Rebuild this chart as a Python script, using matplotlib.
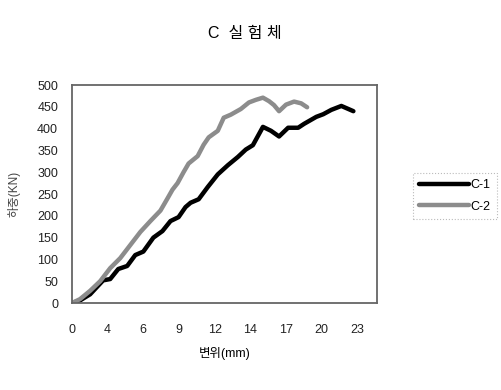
import matplotlib
matplotlib.use('Agg')
import matplotlib.pyplot as plt

plt.rcParams['font.family'] = ['Liberation Sans', 'Noto Sans CJK KR', 'DejaVu Sans']

# 변위 (mm) 와 하중 (kN), 그림에서 읽은 값
c1_x = [0, 0.65, 1.46, 2.51, 3.08, 3.73, 4.45, 5.10, 5.75, 6.56, 7.29, 7.94, 8.59,
        9.15, 9.56, 10.21, 10.94, 11.75, 12.56, 13.37, 14.01, 14.58, 15.39, 16.04,
        16.69, 17.42, 18.23, 18.71, 19.69, 20.25, 20.90, 21.71, 22.68]
c1_y = [0, 6, 20, 52, 55, 78, 85, 110, 118, 150, 165, 188, 197,
        220, 230, 238, 266, 295, 316, 335, 352, 362, 404, 395,
        382, 402, 402, 411, 427, 433, 443, 452, 440]

c2_x = [0, 0.65, 1.46, 2.27, 3.08, 3.89, 4.70, 5.51, 6.32, 7.13, 7.70, 8.10, 8.51,
        8.99, 9.40, 10.13, 10.61, 11.02, 11.75, 12.23, 12.80, 13.61, 14.26, 14.82,
        15.39, 15.88, 16.28, 16.69, 17.25, 17.90, 18.47, 18.95]
c2_y = [0, 9, 28, 50, 80, 103, 133, 163, 188, 212, 240, 260, 275,
        300, 320, 337, 363, 380, 395, 425, 432, 445, 460, 466,
        471, 463, 454, 440, 455, 462, 458, 449]

x_labels = ['0', '4', '6', '9', '12', '14', '17', '20', '23']
y_ticks = [0, 50, 100, 150, 200, 250, 300, 350, 400, 450, 500]

fig = plt.figure(figsize=(5.02, 3.9), dpi=100)
ax = fig.add_axes([0.1434, 0.223, 0.608, 0.559])

ax.plot(c1_x, c1_y, color='black', lw=3.2, label='C-1', solid_capstyle='round')
ax.plot(c2_x, c2_y, color='#8c8c8c', lw=3.2, label='C-2', solid_capstyle='round')

step = 23 / 8
ax.set_xticks([i * step for i in range(len(x_labels))])
ax.set_xticklabels(x_labels)
ax.set_xlim(0, 24.6)
ax.set_yticks(y_ticks)
ax.set_ylim(0, 500)
ax.tick_params(length=0, labelsize=9, colors='#222222')
ax.tick_params(axis='x', pad=15)
ax.tick_params(axis='y', pad=10)
for s in ax.spines.values():
    s.set_color('#666666')
    s.set_linewidth(1.3)

ax.set_xlabel('변위(mm)', fontsize=9, labelpad=8)
ax.set_ylabel('하중(KN)', fontsize=8.5, labelpad=12, color='#444444')
fig.text(0.488, 0.915, 'C  실 험 체', ha='center', va='center', fontsize=11.5,
         fontweight='medium')

leg = fig.legend(loc='upper left', bbox_to_anchor=(0.81, 0.572), fontsize=9,
                 handlelength=4.0, handletextpad=0.1, labelspacing=0.75,
                 borderpad=0.5, fancybox=False)
leg.get_frame().set_linestyle(':')
leg.get_frame().set_edgecolor('#aaaaaa')
leg.get_frame().set_linewidth(0.8)

fig.savefig('out.png', dpi=100)
